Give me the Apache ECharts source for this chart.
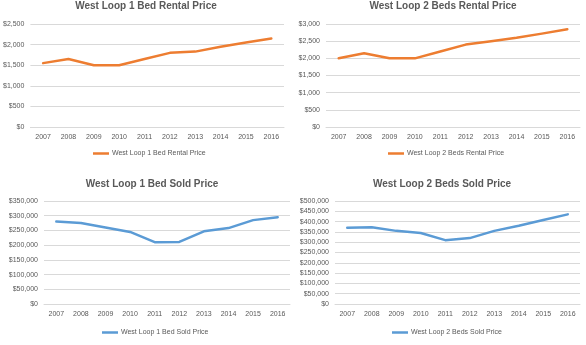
<!DOCTYPE html>
<html>
<head>
<meta charset="utf-8">
<script src="https://cdn.jsdelivr.net/npm/echarts@6/dist/echarts.min.js"></script>
<style>
  html, body { margin: 0; padding: 0; background: #fff; }
  #chart { width: 586px; height: 345px; }
</style>
</head>
<body>
<div id="chart"></div>
<script>
// Years on every category axis
const years = ['2007', '2008', '2009', '2010', '2011', '2012', '2013', '2014', '2015', '2016'];

// Price series (USD)
const rent1Bed = [1550, 1650, 1500, 1500, 1650, 1800, 1830, 1950, 2050, 2150];
const rent2Beds = [2000, 2150, 2000, 2000, 2200, 2400, 2500, 2600, 2720, 2850];
const sold1Bed = [280000, 275000, 260000, 245000, 210000, 211000, 247000, 258000, 285000, 295000];
const sold2Beds = [370000, 373000, 355000, 345000, 310000, 320000, 355000, 380000, 408000, 435000];

// Panel titles / series names
const names = [
  'West Loop 1 Bed Rental Price',
  'West Loop 2 Beds Rental Price',
  'West Loop 1 Bed Sold Price',
  'West Loop 2 Beds Sold Price'
];

const ORANGE = '#ED7D31';
const BLUE = '#5B9BD5';
const TEXT = '#595959';
const GRID = '#D9D9D9';
const FONT = 'Liberation Sans, Arial, sans-serif';

const money = v => '$' + v.toLocaleString('en-US');

// Panel layout boxes: plot rect + title/legend anchor
const panels = [
  { data: rent1Bed, color: ORANGE, max: 2500, step: 500,
    grid: { left: 30, top: 24, width: 254, height: 103 }, titleX: 146, titleY: 1, legendX: 93, legendY: 150 },
  { data: rent2Beds, color: ORANGE, max: 3000, step: 500,
    grid: { left: 326, top: 24, width: 254, height: 103 }, titleX: 443, titleY: 1, legendX: 388, legendY: 150 },
  { data: sold1Bed, color: BLUE, max: 350000, step: 50000,
    grid: { left: 44, top: 201, width: 246, height: 103 }, titleX: 152, titleY: 179, legendX: 102, legendY: 329 },
  { data: sold2Beds, color: BLUE, max: 500000, step: 50000,
    grid: { left: 335, top: 201, width: 245, height: 103 }, titleX: 442, titleY: 179, legendX: 392, legendY: 329 }
];

const option = {
  backgroundColor: '#fff',
  animation: false,
  title: panels.map((p, i) => ({
    text: names[i],
    left: p.titleX, top: p.titleY,
    textAlign: 'center',
    padding: 0,
    textStyle: { fontFamily: FONT, fontSize: 10, fontWeight: 'bold', color: TEXT }
  })),
  legend: panels.map((p, i) => ({
    data: [names[i]],
    left: p.legendX, top: p.legendY,
    icon: 'rect', itemWidth: 16, itemHeight: 2.5, itemGap: 4,
    textStyle: { fontFamily: FONT, fontSize: 7, color: TEXT, padding: [0, 0, 0, -2] },
    padding: 0
  })),
  grid: panels.map(p => Object.assign({ containLabel: false }, p.grid)),
  xAxis: panels.map((p, i) => ({
    type: 'category', gridIndex: i, data: years,
    axisLine: { lineStyle: { color: GRID } },
    axisTick: { show: false },
    axisLabel: { fontFamily: FONT, fontSize: 7, color: TEXT, margin: 7 }
  })),
  yAxis: panels.map((p, i) => ({
    type: 'value', gridIndex: i, min: 0, max: p.max, interval: p.step,
    axisLine: { show: false }, axisTick: { show: false },
    splitLine: { lineStyle: { color: GRID, width: 1 } },
    axisLabel: { fontFamily: FONT, fontSize: 7, color: TEXT, margin: 6, formatter: money }
  })),
  series: panels.map((p, i) => ({
    name: names[i], type: 'line', xAxisIndex: i, yAxisIndex: i,
    data: p.data, showSymbol: false, symbol: 'none',
    lineStyle: { color: p.color, width: 2.5, cap: 'round', join: 'round' },
    itemStyle: { color: p.color }
  }))
};

const chart = echarts.init(document.getElementById('chart'), null, { renderer: 'canvas' });
chart.setOption(option);
</script>
</body>
</html>
